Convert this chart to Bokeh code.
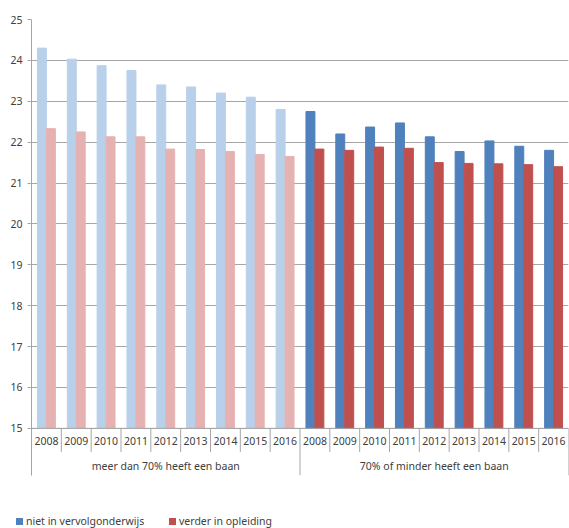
from bokeh.plotting import figure
from bokeh.models import ColumnDataSource, FixedTicker, Div
from bokeh.layouts import column
from bokeh.core.properties import value
from bokeh.embed import file_html
from bokeh.resources import INLINE

years = ["2008", "2009", "2010", "2011", "2012", "2013", "2014", "2015", "2016"]
groups = ["meer dan 70% heeft een baan", "70% of minder heeft een baan"]
niet_hoog = [24.3, 24.03, 23.87, 23.75, 23.4, 23.35, 23.2, 23.1, 22.8]
verder_hoog = [22.33, 22.25, 22.13, 22.13, 21.83, 21.82, 21.77, 21.7, 21.65]
niet_laag = [22.75, 22.2, 22.37, 22.47, 22.13, 21.77, 22.03, 21.9, 21.8]
verder_laag = [21.83, 21.8, 21.88, 21.85, 21.5, 21.48, 21.47, 21.45, 21.4]
legend_names = ["niet in vervolgonderwijs", "verder in opleiding"]

FONT = "Noto Sans"
TXT = "#404040"

n = len(years)
xs = list(range(2 * n))
niet = niet_hoog + niet_laag
verder = verder_hoog + verder_laag
c_niet = ["#b9d0ea"] * n + ["#4f81bd"] * n
c_verder = ["#e5b2b1"] * n + ["#c0504d"] * n

p = figure(width=569, height=490, x_range=(-0.5, 17.5), y_range=(13.48, 25),
           output_backend="svg", toolbar_location=None,
           min_border_left=31, min_border_top=19, min_border_right=1, min_border_bottom=0)
p.outline_line_color = None
p.xaxis.visible = False
p.xgrid.grid_line_color = None
p.ygrid.ticker = FixedTicker(ticks=list(range(15, 26)))
p.ygrid.grid_line_color = "#a6a6a6"
p.yaxis.ticker = FixedTicker(ticks=list(range(15, 26)))
p.yaxis.bounds = (13.85, 25)
p.yaxis.axis_line_color = "#a6a6a6"
p.yaxis.major_tick_line_color = "#a6a6a6"
p.yaxis.major_tick_in = 0
p.yaxis.major_tick_out = 4
p.yaxis.minor_tick_line_color = None
p.yaxis.major_label_text_font = FONT
p.yaxis.major_label_text_font_size = "10.5px"
p.yaxis.major_label_text_color = TXT

src = ColumnDataSource(dict(x=xs, niet=niet, verder=verder, cn=c_niet, cv=c_verder,
                            xn=[x - 0.15 for x in xs], xv=[x + 0.15 for x in xs]))
p.vbar(x="xn", top="niet", bottom=15, width=0.3, color="cn", source=src)
p.vbar(x="xv", top="verder", bottom=15, width=0.3, color="cv", source=src)

# category axis drawn by hand
p.segment(x0=[-0.5], y0=[15], x1=[17.5], y1=[15], line_color="#a6a6a6")
sep = [i - 0.5 for i in range(2 * n + 1)]
p.segment(x0=sep, y0=[15] * len(sep), x1=sep,
          y1=[13.85 if s in (-0.5, 8.5, 17.5) else 14.42 for s in sep], line_color="#a6a6a6")
p.text(x=xs, y=[14.7] * len(xs), text=years + years, text_font=value(FONT),
       text_font_size="10.5px", text_color=TXT, text_align="center", text_baseline="middle")
p.text(x=[4, 13], y=[14.08, 14.08], text=groups, text_font=value(FONT),
       text_font_size="10.5px", text_color=TXT, text_align="center", text_baseline="middle")

# legend as a plain html strip below
sq = '<span style="display:inline-block;width:7px;height:7px;background:{};margin-right:3px"></span>'
items = [sq.format(c) + t for c, t in zip(["#4f81bd", "#c0504d"], legend_names)]
html = ('<div style="font-family:\'Noto Sans\';font-size:10.5px;color:%s;padding-left:11px;'
        'padding-top:19px;white-space:nowrap">' % TXT
        + '<span style="display:inline-block;width:153px">' + items[0] + '</span>'
        + items[1] + '</div>')
lg = Div(text=html, width=569, height=38)

open("out.html", "w").write(file_html(column(p, lg, spacing=0), INLINE))
